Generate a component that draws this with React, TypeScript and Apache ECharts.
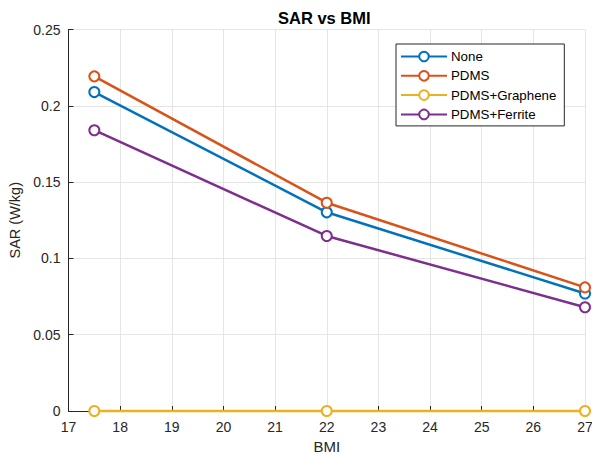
import React, { useEffect, useRef } from "react";
import * as echarts from "echarts";

const bmi = [17.5, 22, 27];
const seriesNames = ["None", "PDMS", "PDMS+Graphene", "PDMS+Ferrite"];
const sarNone = [0.209, 0.1302, 0.077];
const sarPDMS = [0.2193, 0.1365, 0.081];
const sarGraphene = [0, 0, 0];
const sarFerrite = [0.184, 0.1147, 0.068];
const colors = ["#0072BD", "#D95319", "#EDB120", "#7E2F8E"];

const FONT = "Liberation Sans, Arial, Helvetica, sans-serif";

export default function App() {
  const ref = useRef<HTMLDivElement>(null);
  useEffect(() => {
    if (!ref.current) return;
    const chart = echarts.init(ref.current, null, { renderer: "svg", width: 592, height: 455 });
    const all = [sarNone, sarPDMS, sarGraphene, sarFerrite];
    chart.setOption({
      animation: false,
      backgroundColor: "#ffffff",
      title: {
        text: "SAR vs BMI",
        left: 278,
        top: 9,
        padding: 0,
        textStyle: { fontFamily: FONT, fontSize: 16.5, fontWeight: "bold", color: "#000" },
      },
      legend: {
        data: seriesNames,
        orient: "vertical",
        left: 396,
        top: 44,
        padding: [6, 8, 5, 4],
        itemWidth: 46,
        itemHeight: 12,
        itemGap: 6.3,
        backgroundColor: "#ffffff",
        borderColor: "#262626",
        borderWidth: 1,
        borderRadius: 0,
        textStyle: { fontFamily: FONT, fontSize: 13.3, color: "#000", padding: [0, 0, 0, -1] },
      },
      grid: {
        left: 68.5,
        top: 29.5,
        width: 516.5,
        height: 381.5,
        containLabel: false,
        outerBoundsMode: "none",
      },
      xAxis: {
        type: "value",
        min: 17,
        max: 27,
        interval: 1,
        name: "BMI",
        nameLocation: "middle",
        nameGap: 28,
        nameTextStyle: { fontFamily: FONT, fontSize: 15, lineHeight: 15, color: "#262626" },
        axisLine: { show: true, onZero: false, lineStyle: { color: "#262626", width: 1 } },
        axisTick: { show: true, inside: true, length: 5, lineStyle: { color: "#262626" } },
        axisLabel: { fontFamily: FONT, fontSize: 14, color: "#262626", margin: 9 },
        splitLine: { show: true, lineStyle: { color: "#e5e5e5", width: 1 } },
      },
      yAxis: {
        type: "value",
        min: 0,
        max: 0.25,
        interval: 0.05,
        name: "SAR (W/kg)",
        nameLocation: "middle",
        nameGap: 44,
        nameTextStyle: { fontFamily: FONT, fontSize: 14.5, color: "#262626" },
        axisLine: { show: true, onZero: false, lineStyle: { color: "#262626", width: 1 } },
        axisTick: { show: true, inside: true, length: 5, lineStyle: { color: "#262626" } },
        axisLabel: { fontFamily: FONT, fontSize: 14, color: "#262626", margin: 8 },
        splitLine: { show: true, lineStyle: { color: "#e5e5e5", width: 1 } },
      },
      series: seriesNames.map((name, i) => ({
        name,
        type: "line",
        data: bmi.map((x, j) => [x, all[i][j]]),
        color: colors[i],
        symbol: "emptyCircle",
        symbolSize: 10,
        showAllSymbol: true,
        lineStyle: { width: 2.5, color: colors[i] },
        itemStyle: { color: colors[i], borderColor: colors[i], borderWidth: 2.5 },
        clip: false,
      })),
    });
    return () => chart.dispose();
  }, []);
  return <div ref={ref} style={{ width: 592, height: 455, position: "absolute", left: 0, top: 0 }} />;
}
